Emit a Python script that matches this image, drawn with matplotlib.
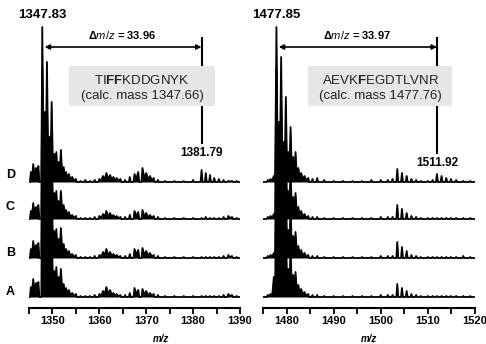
import matplotlib
matplotlib.use("Agg")
import matplotlib.pyplot as plt
from matplotlib.patches import Rectangle
from matplotlib.ticker import MultipleLocator

plt.rcParams["font.family"] = ["Liberation Sans", "DejaVu Sans"]
plt.rcParams["mathtext.fontset"] = "custom"
plt.rcParams["mathtext.rm"] = "Liberation Sans"
plt.rcParams["mathtext.it"] = "Liberation Sans:italic"
plt.rcParams["mathtext.bf"] = "Liberation Sans:bold"

# trazas (de abajo hacia arriba) y su desplazamiento vertical
trazas = ["A", "B", "C", "D"]
offsets = [11, 50, 89, 126]

# panel izquierdo: posiciones m/z de los picos
izq_mz = [1345.4, 1345.9, 1346.5, 1347.0, 1347.83, 1348.35, 1348.83, 1349.35,
          1349.83, 1350.4, 1350.83, 1351.3, 1351.8, 1352.4, 1352.9, 1353.5,
          1354.2, 1355.0, 1356.0, 1357.0, 1358.0, 1359.0, 1360.0, 1360.8,
          1361.5, 1362.3, 1363.0, 1363.7, 1364.5, 1365.5, 1366.5, 1367.5,
          1368.3, 1369.2, 1370.0, 1370.8, 1371.6, 1372.5, 1374.0, 1376.0,
          1378.0, 1380.0, 1381.8, 1382.7, 1383.6, 1384.5, 1385.5, 1386.5,
          1387.5, 1388.3, 1389.3]
izq_int = {
    "D": [10, 18, 14, 16, 155, 70, 120, 45, 80, 28, 30, 20, 32, 15, 10, 8,
          5, 3, 1, 2, 1, 2, 3, 6, 9, 7, 5, 4, 3, 2, 5, 8, 10, 14, 9, 6, 4, 2,
          1, 1, 1, 2, 12, 9, 7, 4, 3, 2, 1, 1, 1],
    "C": [8, 16, 12, 14, 150, 65, 115, 42, 75, 26, 28, 18, 28, 14, 9, 7,
          4, 3, 1, 1, 1, 2, 3, 5, 8, 6, 4, 3, 2, 2, 4, 8, 7, 9, 6, 4, 3, 2,
          1, 1, 1, 1, 1, 2, 1, 1, 1, 2, 3, 2, 1],
    "B": [9, 17, 13, 15, 150, 68, 118, 44, 78, 27, 29, 19, 30, 14, 9, 7,
          4, 3, 1, 1, 1, 2, 3, 6, 9, 6, 4, 3, 2, 2, 4, 9, 8, 10, 7, 5, 3, 2,
          1, 1, 1, 1, 1, 1, 1, 1, 1, 2, 3, 2, 1],
    "A": [10, 18, 14, 15, 150, 66, 116, 43, 76, 26, 30, 20, 28, 13, 9, 7,
          4, 3, 1, 1, 1, 2, 3, 6, 10, 7, 4, 3, 2, 2, 4, 9, 7, 8, 6, 4, 3, 2,
          1, 1, 1, 1, 1, 1, 1, 1, 1, 2, 3, 2, 1],
}

# panel derecho
der_mz = [1476.0, 1476.6, 1477.3, 1477.85, 1478.35, 1478.85, 1479.35, 1479.85,
          1480.35, 1480.85, 1481.4, 1481.9, 1482.5, 1483.1, 1483.8, 1484.6,
          1485.5, 1486.5, 1488.0, 1490.0, 1492.0, 1494.0, 1496.0, 1498.0,
          1500.0, 1501.5, 1502.5, 1503.5, 1504.5, 1505.5, 1506.5, 1507.5,
          1508.5, 1510.0, 1511.0, 1511.92, 1512.9, 1513.9, 1514.9, 1516.0,
          1517.5, 1519.0]
der_int = {
    "D": [2, 3, 6, 155, 60, 125, 40, 85, 30, 55, 25, 30, 14, 9, 6, 4, 3, 4,
          2, 1, 1, 1, 1, 2, 2, 2, 3, 13, 9, 6, 3, 2, 1, 1, 2, 8, 6, 4, 3, 2,
          1, 1],
    "C": [2, 3, 5, 150, 55, 120, 38, 80, 28, 50, 22, 26, 12, 8, 5, 3, 2, 2,
          1, 1, 1, 1, 1, 1, 2, 2, 2, 14, 10, 6, 3, 2, 1, 1, 1, 1, 1, 1, 1, 1,
          1, 1],
    "B": [2, 3, 5, 150, 55, 120, 38, 80, 28, 50, 22, 26, 12, 8, 5, 3, 2, 2,
          1, 1, 1, 1, 1, 1, 2, 2, 2, 16, 11, 7, 3, 2, 1, 1, 1, 1, 1, 1, 1, 1,
          2, 1],
    "A": [2, 3, 20, 145, 55, 118, 38, 78, 28, 48, 22, 25, 12, 8, 5, 3, 2, 2,
          1, 1, 1, 1, 1, 1, 2, 2, 2, 13, 9, 6, 3, 2, 1, 1, 1, 1, 1, 1, 1, 1,
          1, 1],
}

rangos = [(1345, 1390), (1475, 1520)]


def perfil(mz, alturas, x0, x1, w=0.2):
    # pasa la lista de picos a un perfil continuo; picos cercanos se unen
    xs, ys = [x0], [0]
    prev_m, prev_h = None, 0
    for m, h in zip(mz, alturas):
        if prev_m is not None and m - prev_m < 0.8:
            xs.append((m + prev_m) / 2)
            ys.append(0.4 * min(h, prev_h))
        else:
            if prev_m is not None:
                xs.append(prev_m + w)
                ys.append(0)
            xs.append(m - w)
            ys.append(0)
        xs.append(m)
        ys.append(h)
        prev_m, prev_h = m, h
    xs += [prev_m + w, x1]
    ys += [0, 0]
    return xs, ys


fig = plt.figure(figsize=(4.86, 3.44), dpi=100)
axL = fig.add_axes([29 / 486, 36 / 344, 211 / 486, 308 / 344])
axR = fig.add_axes([263 / 486, 36 / 344, 212 / 486, 308 / 344])

for ax, mz, ints, (x0, x1) in [(axL, izq_mz, izq_int, rangos[0]),
                               (axR, der_mz, der_int, rangos[1])]:
    for nom, off in zip(trazas, offsets):
        xs, ys = perfil(mz, ints[nom], x0 + 0.2, x1 - 0.2)
        ys = [y + off for y in ys]
        ax.fill_between(xs, off, ys, color="black", lw=0, zorder=2)
        ax.plot(xs, ys, color="black", lw=1.3, zorder=2)
    ax.set_xlim(x0, x1)
    ax.set_ylim(0, 308)
    for s in ["top", "left", "right"]:
        ax.spines[s].set_visible(False)
    ax.spines["bottom"].set_linewidth(1.5)
    ax.set_yticks([])
    ax.xaxis.set_major_locator(MultipleLocator(10))
    ax.xaxis.set_minor_locator(MultipleLocator(5))
    ax.tick_params(axis="x", which="both", direction="out", length=4,
                   width=1.3, pad=2)
    for lab in ax.get_xticklabels():
        lab.set_fontweight("bold")
        lab.set_fontsize(8)

axL.set_xlabel("m/z", fontsize=7, style="italic", fontweight="bold")
axL.xaxis.set_label_coords((161 - 29) / 211, -0.085)
axR.set_xlabel("m/z", fontsize=7, style="italic", fontweight="bold")
axR.xaxis.set_label_coords(0.5, -0.085)

# letras de las trazas
for nom, y in zip(["D", "C", "B", "A"], [133, 101, 55, 16]):
    axL.text(1341.0, y, nom, fontsize=9, fontweight="bold", ha="center",
             va="center", clip_on=False)

# anotaciones
anot = [
    (axL, 1347.83, 1381.79, "33.96", "TI$\\mathbf{FF}$KDDGNYK", "1347.66",
     (1353.5, 1384.7), 155),
    (axR, 1477.85, 1511.92, "33.97", "AEVK$\\mathbf{F}$EGDTLVNR", "1477.76",
     (1484.6, 1515.2), 145),
]
for ax, m1, m2, dif, pep, calc, (bx0, bx1), ylab in anot:
    ax.text(m1, 293, "%.2f" % m1, fontsize=9.5, fontweight="bold",
            ha="center", va="center")
    ax.annotate("", xy=(m1 + 0.5, 261), xytext=(m2, 261),
                arrowprops=dict(arrowstyle="<|-|>", color="black", lw=1.2,
                                mutation_scale=7, shrinkA=0, shrinkB=0))
    ax.text((m1 + m2) / 2, 273, "$\\mathbf{\\Delta}\\mathit{m/z}$ = " + dif,
            fontsize=8, fontweight="bold", ha="center", va="center")
    ax.plot([m2, m2], [ylab + 10, 270], color="black", lw=1.5, zorder=1)
    ax.text(m2, ylab, "%.2f" % m2, fontsize=8.5, fontweight="bold",
            ha="center", va="center")
    ax.add_patch(Rectangle((bx0, 202), bx1 - bx0, 40, facecolor="#e6e6e6",
                           edgecolor="none", zorder=3))
    cx = (bx0 + bx1) / 2
    ax.text(cx, 228, pep, fontsize=9.5, ha="center", va="center", zorder=4,
            color="#222222")
    ax.text(cx, 212, "(calc. mass %s)" % calc, fontsize=9.5, ha="center",
            va="center", zorder=4, color="#222222")

fig.savefig("out.png", dpi=100)
